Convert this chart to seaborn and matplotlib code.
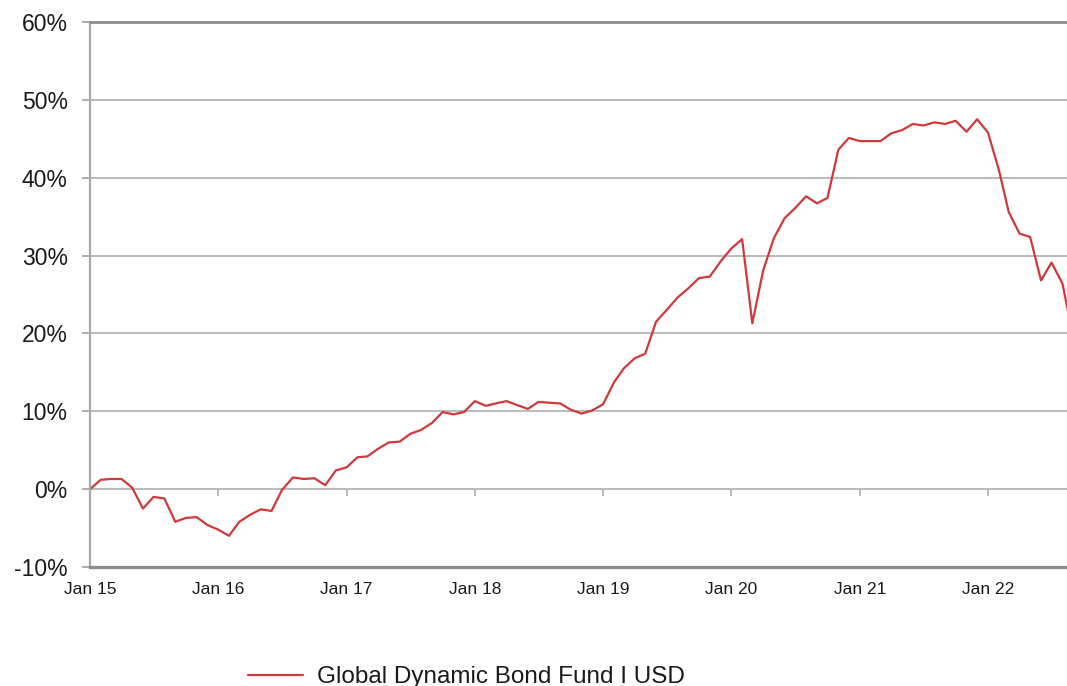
import numpy as np
import pandas as pd
import matplotlib
matplotlib.use("Agg")
import matplotlib.pyplot as plt
import matplotlib.dates as mdates
import seaborn as sns

# monthly cumulative performance (%), Jan 2015 - Sep 2022
perf_2015 = [0.0, 1.2, 1.3, 1.3, 0.2, -2.5, -1.0, -1.2, -4.2, -3.7, -3.6, -4.6]
perf_2016 = [-5.2, -6.0, -4.2, -3.3, -2.6, -2.8, -0.1, 1.5, 1.3, 1.4, 0.5, 2.4]
perf_2017 = [2.8, 4.1, 4.2, 5.2, 6.0, 6.1, 7.1, 7.6, 8.5, 9.9, 9.6, 9.9]
perf_2018 = [11.3, 10.7, 11.0, 11.3, 10.8, 10.3, 11.2, 11.1, 11.0, 10.2, 9.7, 10.1]
perf_2019 = [10.9, 13.7, 15.5, 16.8, 17.4, 21.5, 23.0, 24.6, 25.8, 27.1, 27.3, 29.2]
perf_2020 = [30.9, 32.1, 21.3, 28.1, 32.2, 34.8, 36.1, 37.6, 36.7, 37.4, 43.6, 45.1]
perf_2021 = [44.7, 44.7, 44.7, 45.7, 46.1, 46.9, 46.7, 47.1, 46.9, 47.3, 45.9, 47.5]
perf_2022 = [45.8, 41.0, 35.6, 32.8, 32.4, 26.8, 29.1, 26.4, 19.5]

series_name = "Global Dynamic Bond Fund I USD"
tick_labels = ["Jan 15", "Jan 16", "Jan 17", "Jan 18", "Jan 19", "Jan 20", "Jan 21", "Jan 22"]
y_ticks = [-10, 0, 10, 20, 30, 40, 50, 60]

values = (perf_2015 + perf_2016 + perf_2017 + perf_2018 +
          perf_2019 + perf_2020 + perf_2021 + perf_2022)
dates = pd.date_range("2015-01-01", periods=len(values), freq="MS")
df = pd.DataFrame({"Fecha": dates, "Rend": values, "Serie": series_name})

sns.set_style("white")
plt.rcParams["font.family"] = ["Liberation Sans", "DejaVu Sans"]

fig = plt.figure(figsize=(10.67, 6.86), dpi=100)
ax = fig.add_axes([0.0843, 0.1735, 0.9157, 0.7945])

sns.lineplot(data=df, x="Fecha", y="Rend", hue="Serie", palette=["#d0383a"],
             linewidth=1.6, ax=ax, legend=False)

# grid
grid_col = "#b4b4b4"
for yv in y_ticks[1:-1]:
    ax.axhline(yv, color=grid_col, lw=1.3, zorder=0)

ax.set_ylim(-10, 60)
x_start = pd.Timestamp("2015-01-01")
x_end = pd.Timestamp("2022-08-14")
ax.set_xlim(x_start, x_end)

# x ticks sitting on the 0% line
jan_ticks = pd.date_range("2015-01-01", "2022-01-01", freq="YS")
ax.vlines(jan_ticks[1:], -0.9, 0, color=grid_col, lw=1.3, zorder=0)
ax.set_xticks(jan_ticks)
ax.set_xticklabels(tick_labels)
ax.tick_params(axis="x", length=0, pad=11, labelsize=12.5, labelcolor="#1a1a1a")

ax.set_yticks(y_ticks)
ax.set_yticklabels([f"{v}%" for v in y_ticks])
ax.tick_params(axis="y", left=True, length=6, width=1.3, color="#a8a8a8",
               pad=10, labelsize=16.5, labelcolor="#1a1a1a")

ax.set_xlabel("")
ax.set_ylabel("")

for side in ["left", "bottom", "top", "right"]:
    ax.spines[side].set_visible(True)
ax.spines["right"].set_visible(False)
ax.spines["left"].set_color("#a8a8a8")
ax.spines["left"].set_linewidth(1.6)
ax.spines["bottom"].set_color("#8c8c8c")
ax.spines["bottom"].set_linewidth(2.4)
ax.spines["top"].set_color("#8c8c8c")
ax.spines["top"].set_linewidth(2.0)

handle = plt.Line2D([], [], color="#d0383a", lw=1.6)
fig.legend([handle], [series_name], loc="center left",
           bbox_to_anchor=(0.2115, 0.013), frameon=False, fontsize=17.5,
           handlelength=2.3, handletextpad=0.55, labelcolor="#1a1a1a")

fig.savefig("out.png", dpi=100)
